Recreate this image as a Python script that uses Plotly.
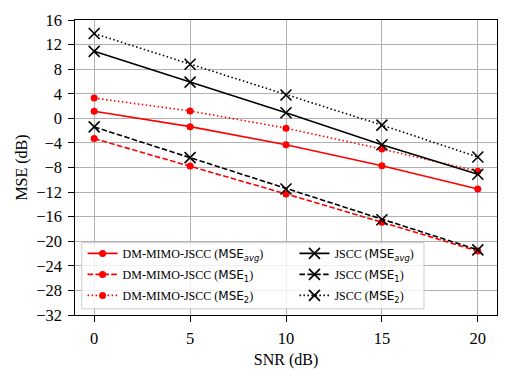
import plotly.graph_objects as go

SNR = [0, 5, 10, 15, 20]

DM_AVG = [1.15, -1.35, -4.3, -7.7, -11.5]
DM_MSE1 = [-3.3, -7.75, -12.3, -16.9, -21.6]
DM_MSE2 = [3.3, 1.2, -1.6, -5.0, -8.6]

JSCC_AVG = [10.9, 5.9, 0.9, -4.3, -9.1]
JSCC_MSE1 = [-1.4, -6.4, -11.5, -16.5, -21.4]
JSCC_MSE2 = [13.8, 8.8, 3.8, -1.1, -6.3]

RED = "#ff0000"
BLACK = "#000000"
SERIF = "Liberation Serif"
MATH = "<span style='font-family:DejaVu Sans'>MSE<sub>%s</sub></span>"

DASH = "5.5px,2.4px"
DOT = "1.5px,2.5px"

fig = go.Figure()

series = [
    ("DM-MIMO-JSCC", DM_AVG, "<i>avg</i>", "solid", RED, "legend"),
    ("DM-MIMO-JSCC", DM_MSE1, "1", DASH, RED, "legend"),
    ("DM-MIMO-JSCC", DM_MSE2, "2", DOT, RED, "legend"),
    ("JSCC", JSCC_AVG, "<i>avg</i>", "solid", BLACK, "legend2"),
    ("JSCC", JSCC_MSE1, "1", DASH, BLACK, "legend2"),
    ("JSCC", JSCC_MSE2, "2", DOT, BLACK, "legend2"),
]

for i, (name, vals, sub, dash, color, leg) in enumerate(series):
    if color == RED:
        marker = dict(symbol="circle", size=7, color=RED)
    else:
        marker = dict(symbol="x-thin", size=11, line=dict(color=BLACK, width=1.6))
    fig.add_trace(
        go.Scatter(
            x=SNR,
            y=vals,
            mode="lines+markers",
            name=f"{name} ({MATH % sub})",
            line=dict(color=color, width=1.6, dash=dash),
            marker=marker,
            legend=leg,
            legendgroup=f"g{i}",
        )
    )

legend_common = dict(
    yanchor="top",
    xanchor="left",
    bgcolor="rgba(0,0,0,0)",
    borderwidth=0,
    font=dict(family=SERIF, size=12, color=BLACK),
    tracegroupgap=2,
)

# legend frame (two legends share one box, like a 2-column mpl legend)
fig.add_shape(
    type="rect",
    xref="paper",
    yref="paper",
    x0=0.016,
    x1=0.827,
    y0=0.021,
    y1=0.245,
    layer="above",
    fillcolor="rgba(255,255,255,0.8)",
    line=dict(color="#cccccc", width=1),
)

axis_common = dict(
    showgrid=True,
    gridcolor="#b0b0b0",
    gridwidth=1.2,
    zeroline=False,
    showline=True,
    linecolor=BLACK,
    linewidth=1.2,
    mirror=True,
    ticks="outside",
    ticklen=5.5,
    tickwidth=1.2,
    tickcolor=BLACK,
    ticklabelstandoff=3,
    tickfont=dict(size=16.5),
)

fig.update_layout(
    width=509,
    height=377,
    margin=dict(l=75, r=11, t=17, b=62),
    paper_bgcolor="white",
    plot_bgcolor="white",
    font=dict(family=SERIF, size=16, color=BLACK),
    showlegend=True,
    legend=dict(x=0.018, y=0.258, **legend_common),
    legend2=dict(x=0.52, y=0.258, **legend_common),
    xaxis=dict(
        title=dict(text="SNR (dB)", font=dict(size=16), standoff=6),
        range=[-1, 21],
        tickvals=SNR,
        **axis_common,
    ),
    yaxis=dict(
        title=dict(text="MSE (dB)", font=dict(size=16), standoff=4),
        range=[-32, 16],
        dtick=4,
        tick0=0,
        **axis_common,
    ),
)

fig.write_html(
    "out.html",
    config={"displayModeBar": False},
    post_script="document.body.style.margin='0';",
)
